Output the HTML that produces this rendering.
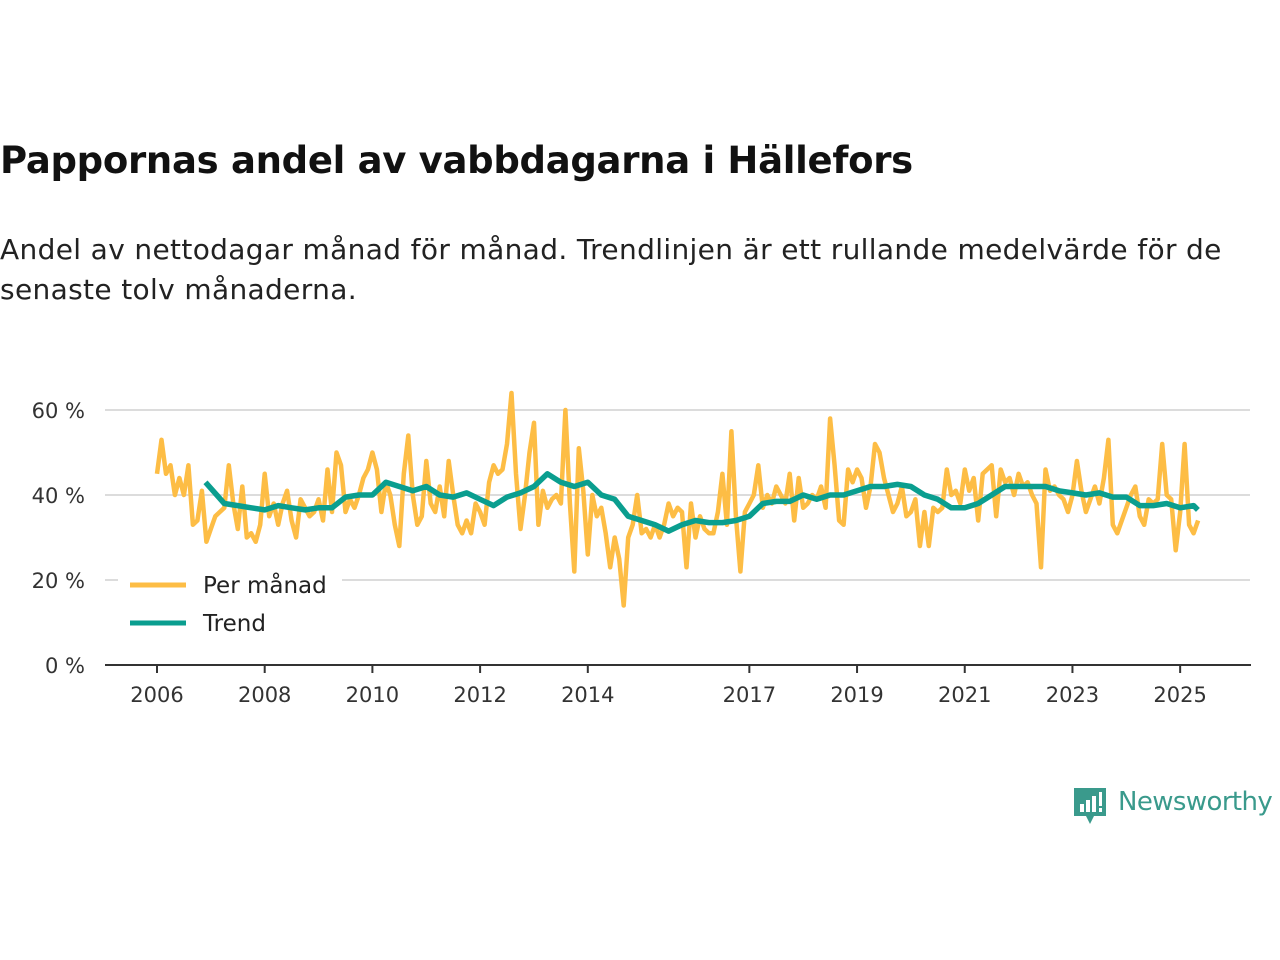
<!DOCTYPE html>
<html><head><meta charset="utf-8"><style>
body{margin:0;width:1280px;height:960px;background:#fff;font-family:"Liberation Sans","DejaVu Sans",sans-serif;overflow:hidden;position:relative}
h1{position:absolute;left:0;top:139px;margin:0;font-size:37px;font-weight:bold;color:#111;font-family:"DejaVu Sans","Liberation Sans",sans-serif;letter-spacing:-0.3px}
p{position:absolute;left:0;top:230px;margin:0;font-size:28px;line-height:40px;color:#222;width:1270px;font-family:"DejaVu Sans","Liberation Sans",sans-serif;letter-spacing:0.35px}
</style></head><body>
<h1>Pappornas andel av vabbdagarna i Hällefors</h1>
<p>Andel av nettodagar månad för månad. Trendlinjen är ett rullande medelvärde för de senaste tolv månaderna.</p>
<svg id="chart" width="1280" height="960" style="position:absolute;left:0;top:0" font-family="DejaVu Sans, Liberation Sans, sans-serif"></svg>
<div style="position:absolute;left:1072px;top:786px;height:40px;">
<svg width="36" height="42" style="position:absolute;left:0;top:0"><path d="M2 2h32v28h-12l-4 8-4-8h-12z" fill="#3a9a8c"/><rect x="8" y="18" width="4" height="8" fill="#fff"/><rect x="14" y="14" width="4" height="12" fill="#fff"/><rect x="20" y="10" width="4" height="16" fill="#fff"/><rect x="27" y="6" width="3" height="14" fill="#fff"/><rect x="27" y="22" width="3" height="4" fill="#fff"/></svg>
<span style="position:absolute;left:46px;top:1px;font-size:26px;color:#3a9a8c;white-space:nowrap;font-family:'DejaVu Sans',sans-serif;letter-spacing:-0.6px">Newsworthy</span></div>
<script>
const monthly=[45,53,45,47,40,44,40,47,33,34,41,29,
32,35,36,37,47,38,32,42,30,31,29,33,
45,35,38,33,38,41,34,30,39,37,35,36,
39,34,46,36,50,47,36,39,37,40,44,46,
50,46,36,43,40,33,28,45,54,40,33,35,
48,38,36,42,35,48,40,33,31,34,31,38,
36,33,43,47,45,46,52,64,45,32,40,50,
57,33,41,37,39,40,38,60,38,22,51,41,
26,40,35,37,31,23,30,25,14,30,33,40,
31,32,30,33,30,33,38,35,37,36,23,38,
30,35,32,31,31,36,45,33,55,35,22,36,
38,40,47,37,40,38,42,40,38,45,34,44,
37,38,40,39,42,37,58,47,34,33,46,43,
46,44,37,42,52,50,44,40,36,38,42,35,
36,39,28,36,28,37,36,37,46,40,41,38,
46,41,44,34,45,46,47,35,46,43,44,40,
45,42,43,40,38,23,46,41,42,40,39,36,
40,48,41,36,39,42,38,44,53,33,31,34,
37,40,42,35,33,39,38,39,52,40,39,27,
36,52,33,31,34];
const monthlyStart=2006.0;
const trendTimes=[2006.9,2007.25,2007.5,2007.75,2008.0,2008.25,2008.5,2008.75,2009.0,2009.25,2009.5,2009.75,2010.0,2010.25,2010.5,2010.75,2011.0,2011.25,2011.5,2011.75,2012.0,2012.25,2012.5,2012.75,2013.0,2013.25,2013.5,2013.75,2014.0,2014.25,2014.5,2014.75,2015.0,2015.25,2015.5,2015.75,2016.0,2016.25,2016.5,2016.75,2017.0,2017.25,2017.5,2017.75,2018.0,2018.25,2018.5,2018.75,2019.0,2019.25,2019.5,2019.75,2020.0,2020.25,2020.5,2020.75,2021.0,2021.25,2021.5,2021.75,2022.0,2022.25,2022.5,2022.75,2023.0,2023.25,2023.5,2023.75,2024.0,2024.25,2024.5,2024.75,2025.0,2025.25,2025.33];
const trendValues=[43,38,37.5,37,36.5,37.5,37,36.5,37,37,39.5,40,40,43,42,41,42,40,39.5,40.5,39,37.5,39.5,40.5,42,45,43,42,43,40,39,35,34,33,31.5,33,34,33.5,33.5,34,35,38,38.5,38.5,40,39,40,40,41,42,42,42.5,42,40,39,37,37,38,40,42,42,42,42,41,40.5,40,40.5,39.5,39.5,37.5,37.5,38,37,37.5,36.5];
const yTicks=[0,20,40,60];
const xTicks=[2006,2008,2010,2012,2014,2017,2019,2021,2023,2025];
const NS="http://www.w3.org/2000/svg";
const svg=document.getElementById('chart');
const X=t=>157+(t-2006)*53.85;
const Y=v=>665-v*4.25;
function mk(tag,attrs,parent){const e=document.createElementNS(NS,tag);for(const k in attrs)e.setAttribute(k,attrs[k]);(parent||svg).appendChild(e);return e;}
yTicks.forEach(v=>{
 if(v>0){const g=mk('line',{x1:105,x2:1250,y1:Y(v),y2:Y(v),stroke:'#dcdcdc','stroke-width':2});
 
 }
 const t=mk('text',{x:85,y:Y(v)+8,'text-anchor':'end','font-size':21,fill:'#333'});t.textContent=v+' %';
 
 
});
const ax=mk('line',{x1:105,x2:1251,y1:665,y2:665,stroke:'#333','stroke-width':2});


xTicks.forEach(yr=>{
 mk('line',{x1:X(yr),x2:X(yr),y1:665,y2:673,stroke:'#333','stroke-width':2});
 const t=mk('text',{x:X(yr),y:702,'text-anchor':'middle','font-size':21,fill:'#333'});t.textContent=yr;
 
 
});
const mp=monthly.map((v,i)=>X(monthlyStart+i/12).toFixed(1)+','+Y(v).toFixed(1)).join(' ');
const l1=mk('polyline',{points:mp,fill:'none',stroke:'#fdbd45','stroke-width':4.5,'stroke-linejoin':'round'});


const tp=trendValues.map((v,i)=>X(trendTimes[i]).toFixed(1)+','+Y(v).toFixed(1)).join(' ');
const l2=mk('polyline',{points:tp,fill:'none',stroke:'#0a9e8f','stroke-width':5.5,'stroke-linejoin':'round'});


const lg=mk('g',{});


mk('rect',{x:118,y:565,width:224,height:80,fill:'#fff'},lg);
mk('line',{x1:130,x2:186,y1:585,y2:585,stroke:'#fdbd45','stroke-width':5},lg);
mk('line',{x1:130,x2:186,y1:623,y2:623,stroke:'#0a9e8f','stroke-width':5},lg);
const a=mk('text',{x:203,y:593,'font-size':23,fill:'#222'},lg);a.textContent='Per månad';


const b=mk('text',{x:203,y:631,'font-size':23,fill:'#222'},lg);b.textContent='Trend';


</script>
</body></html>
